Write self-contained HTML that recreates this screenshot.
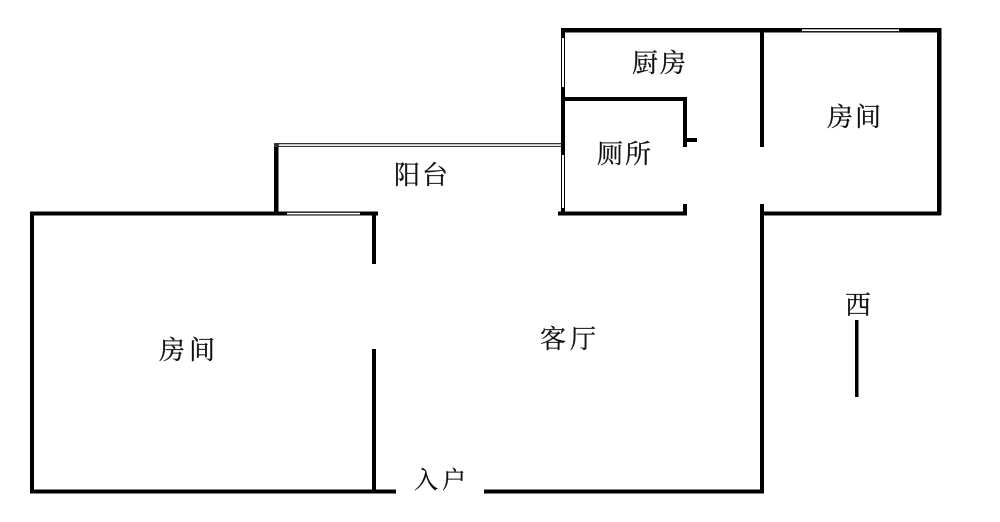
<!DOCTYPE html>
<html><head><meta charset="utf-8"><style>
html,body{margin:0;padding:0;background:#fff}
svg{display:block}
text{font-family:"Liberation Serif","Noto Serif CJK SC",serif;font-size:26px;fill:#111;stroke:#111;stroke-width:.25px}
</style></head><body>
<svg width="1000" height="522" viewBox="0 0 1000 522" xmlns="http://www.w3.org/2000/svg">
<rect width="1000" height="522" fill="#fff"/>
<g style="filter:blur(.35px)">
<g fill="#000">
<rect x="561" y="28" width="380" height="4.5"/>
<rect x="937" y="28" width="4.5" height="187"/>
<rect x="760" y="28" width="4" height="119"/>
<rect x="760" y="204" width="4" height="289"/>
<rect x="760" y="211.500" width="181" height="4"/>
<rect x="561" y="28" width="4" height="187"/>
<rect x="563" y="97" width="124" height="4"/>
<rect x="683" y="97" width="4" height="50"/>
<rect x="683" y="138" width="14" height="4"/>
<rect x="683" y="204" width="4" height="11"/>
<rect x="558" y="211.500" width="129" height="4"/>
<rect x="274" y="143" width="4.500" height="71"/>
<rect x="274" y="143" width="287" height="4" fill="#333"/>
<rect x="30" y="211.500" width="348" height="4"/>
<rect x="30" y="211.500" width="4" height="281.500"/>
<rect x="372" y="212" width="4" height="52"/>
<rect x="372" y="349" width="4" height="144"/>
<rect x="30" y="489.500" width="366" height="4"/>
<rect x="484" y="489.500" width="280" height="4"/>
<rect x="855" y="320" width="3.500" height="77"/>
</g>
<g fill="#fff">
<rect x="279" y="144.300" width="282" height="1.600"/>
<rect x="287" y="212.800" width="73" height="1.600"/>
<rect x="802" y="29.300" width="97" height="1.800"/>
<rect x="562" y="38" width="2" height="49"/>
<rect x="562" y="155" width="2" height="53"/>
</g>
</g>
<text x="632" y="72">厨</text><text x="660" y="72">房</text>
<text x="827" y="126">房</text><text x="855" y="126">间</text>
<text x="597" y="163">厕</text><text x="625" y="163">所</text>
<text x="394" y="184">阳</text><text x="422" y="184">台</text>
<text x="540" y="348">客</text><text x="570" y="348">厅</text>
<text x="159" y="359">房</text><text x="189" y="359">间</text>
<text x="845" y="314">西</text>
<text x="414" y="488" style="font-size:24px">入</text><text x="442" y="488" style="font-size:24px">户</text>
</svg>
</body></html>
